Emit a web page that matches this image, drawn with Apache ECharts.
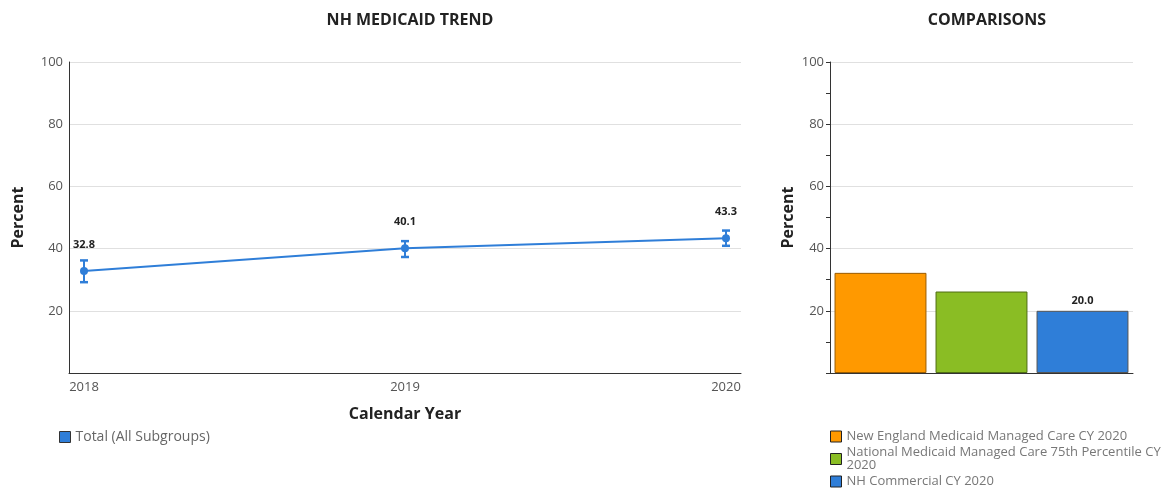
<!DOCTYPE html>
<html>
<head>
<meta charset="utf-8">
<script src="https://cdn.jsdelivr.net/npm/echarts@6/dist/echarts.min.js"></script>
<style>
  html, body { margin: 0; padding: 0; background: #fff; }
  #main { width: 1163px; height: 494px; }
</style>
</head>
<body>
<div id="main"></div>
<script>
// trend data
var years = [2018, 2019, 2020];
var trendValues = [32.8, 40.1, 43.3];
var trendLow = [29.2, 37.3, 40.9];
var trendHigh = [36.2, 42.4, 45.8];

// comparison data
var compNames = ['New England Medicaid Managed Care CY 2020', 'National Medicaid Managed Care 75th Percentile CY 2020', 'NH Commercial CY 2020'];
var compValues = [32.2, 26.2, 20.0];
var compColors = ['#ff9900', '#8abd24', '#2f7ed8'];
var compBorders = ['#9a5c00', '#4f6d14', '#555555'];

var blue = '#2f7ed8';
var fontFam = '"Open Sans", sans-serif';

var myChart = echarts.init(document.getElementById('main'));

var errData = years.map(function (y, i) { return [y, trendLow[i], trendHigh[i]]; });
var lineData = years.map(function (y, i) { return [y, trendValues[i]]; });

var barSeries = compNames.map(function (name, i) {
    var d = compNames.map(function (n, j) { return j === i ? compValues[i] : '-'; });
    return {
        name: name,
        type: 'bar',
        xAxisIndex: 1,
        yAxisIndex: 1,
        stack: 'cmp',
        barCategoryGap: '9%',
        data: d,
        itemStyle: { color: compColors[i], borderColor: compBorders[i], borderWidth: 1 },
        label: {
            show: i === 2,
            position: 'top',
            distance: 4,
            fontSize: 11,
            fontWeight: 'bold',
            color: '#222',
            fontFamily: fontFam,
            formatter: function (p) { return p.value.toFixed(1); }
        }
    };
});

var yAxisCommon = {
    type: 'value',
    min: 0,
    max: 100,
    interval: 20,
    name: 'Percent',
    nameLocation: 'middle',
    nameRotate: 90,
    nameTextStyle: { fontSize: 16, fontWeight: 'bold', color: '#222', fontFamily: fontFam },
    axisLine: { show: true, lineStyle: { color: '#333', width: 1 } },
    axisLabel: {
        color: '#555', fontSize: 13, margin: 6, fontFamily: fontFam,
        formatter: function (v) { return v === 0 ? '' : v; }
    },
    splitLine: { lineStyle: { color: '#e0e0e0' } }
};

var option = {
    animation: false,
    textStyle: { fontFamily: fontFam },
    title: [
        { text: 'NH MEDICAID TREND', left: 405, top: 7, textAlign: 'center',
          textStyle: { fontSize: 16, fontWeight: 'bold', color: '#222', fontFamily: fontFam } },
        { text: 'COMPARISONS', left: 982, top: 7, textAlign: 'center',
          textStyle: { fontSize: 16, fontWeight: 'bold', color: '#222', fontFamily: fontFam } }
    ],
    legend: [
        {
            data: ['Total (All Subgroups)'],
            left: 54, top: 425,
            icon: 'rect', itemWidth: 11, itemHeight: 11, itemGap: 6,
            itemStyle: { borderColor: '#333', borderWidth: 1 },
            textStyle: { color: '#666', fontSize: 14, fontFamily: fontFam },
            selectedMode: false
        },
        {
            data: compNames,
            orient: 'vertical',
            left: 825, top: 425,
            icon: 'rect', itemWidth: 11, itemHeight: 11, itemGap: 3,
            itemStyle: { borderColor: '#222', borderWidth: 1 },
            formatter: function (name) { return name.replace('Percentile CY 2020', 'Percentile CY\n2020'); },
            textStyle: { color: '#777', fontSize: 13, fontFamily: fontFam, lineHeight: 13 },
            selectedMode: false
        }
    ],
    grid: [
        { left: 69, right: 422, top: 62, bottom: 121 },
        { left: 830, right: 30, top: 62, bottom: 121 }
    ],
    xAxis: [
        {
            type: 'value',
            gridIndex: 0,
            min: 2018 - 15 / 321,
            max: 2020 + 15 / 321,
            name: 'Calendar Year',
            nameLocation: 'middle',
            nameGap: 33,
            nameTextStyle: { fontSize: 16, fontWeight: 'bold', color: '#222', fontFamily: fontFam },
            axisLine: { show: true, onZero: false, lineStyle: { color: '#333', width: 1 } },
            axisTick: { show: false },
            axisLabel: {
                customValues: years, color: '#555', fontSize: 13, margin: 8, fontFamily: fontFam,
                formatter: function (v) { return String(v); }
            },
            splitLine: { show: false }
        },
        {
            type: 'category',
            gridIndex: 1,
            data: compNames,
            axisLine: { show: true, lineStyle: { color: '#333', width: 1 } },
            axisTick: { show: false },
            axisLabel: { show: false },
            splitLine: { show: false }
        }
    ],
    yAxis: [
        Object.assign({}, yAxisCommon, { gridIndex: 0, nameGap: 43, axisTick: { show: false } }),
        Object.assign({}, yAxisCommon, {
            gridIndex: 1, nameGap: 34,
            axisTick: { show: true, length: 4, lineStyle: { color: '#333' } },
            minorTick: { show: true, splitNumber: 2, length: 4, lineStyle: { color: '#333' } }
        })
    ],
    series: [
        {
            name: 'Total (All Subgroups)',
            type: 'line',
            xAxisIndex: 0,
            yAxisIndex: 0,
            data: lineData,
            symbol: 'circle',
            symbolSize: 8,
            color: blue,
            lineStyle: { color: blue, width: 2 },
            itemStyle: { color: blue },
            label: {
                show: true,
                position: 'top',
                distance: 17,
                fontSize: 11,
                fontWeight: 'bold',
                color: '#222',
                fontFamily: fontFam,
                formatter: function (p) { return p.value[1].toFixed(1); }
            },
            z: 3
        },
        {
            name: 'error',
            type: 'custom',
            xAxisIndex: 0,
            yAxisIndex: 0,
            data: errData,
            z: 4,
            renderItem: function (params, api) {
                var x = api.value(0);
                var lo = api.coord([x, api.value(1)]);
                var hi = api.coord([x, api.value(2)]);
                var hw = 4;
                var st = { stroke: blue, lineWidth: 2 };
                return {
                    type: 'group',
                    children: [
                        { type: 'line', shape: { x1: lo[0], y1: lo[1], x2: hi[0], y2: hi[1] }, style: st },
                        { type: 'line', shape: { x1: lo[0] - hw, y1: lo[1], x2: lo[0] + hw, y2: lo[1] }, style: { stroke: blue, lineWidth: 2.5 } },
                        { type: 'line', shape: { x1: hi[0] - hw, y1: hi[1], x2: hi[0] + hw, y2: hi[1] }, style: { stroke: blue, lineWidth: 2.5 } }
                    ]
                };
            }
        }
    ].concat(barSeries)
};

myChart.setOption(option);
</script>
</body>
</html>
